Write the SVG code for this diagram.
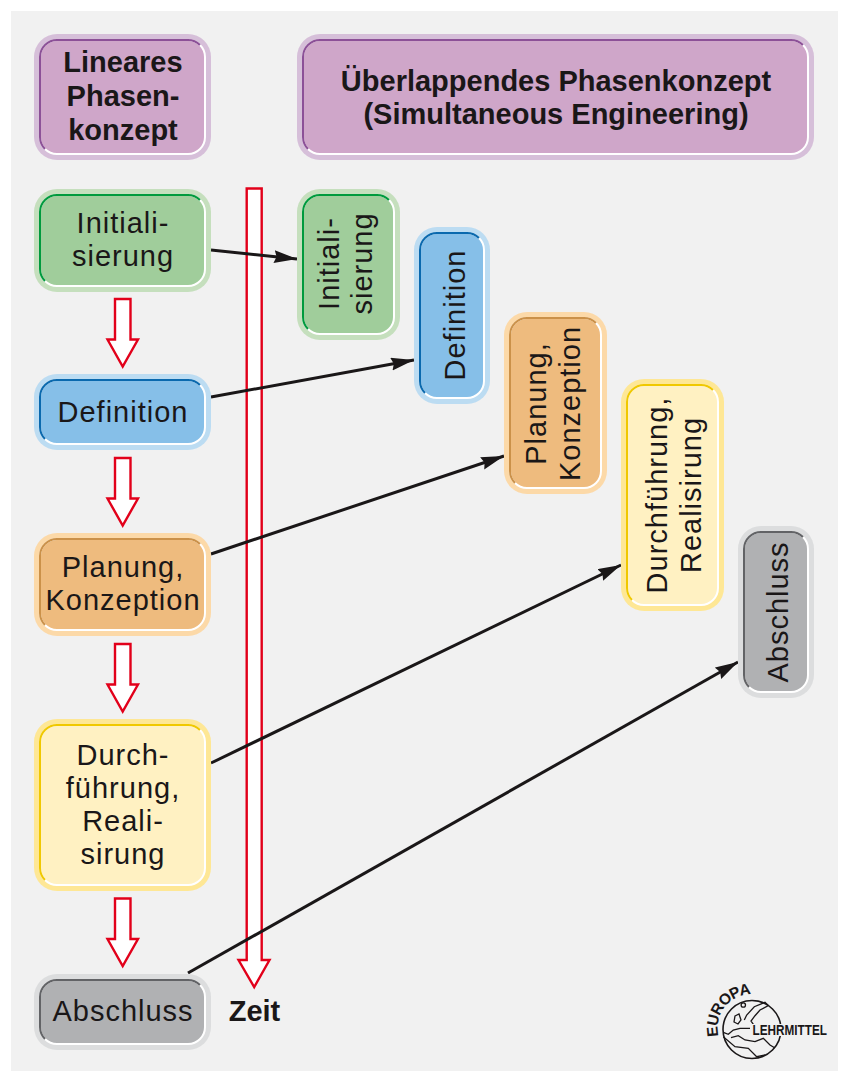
<svg xmlns="http://www.w3.org/2000/svg" width="848" height="1081" viewBox="0 0 848 1081">
<style>
text{font-family:"Liberation Sans",Arial,sans-serif;fill:#1a1718;text-anchor:middle}
.t{font-size:29px;letter-spacing:1px}
.b{font-size:29px;font-weight:700}
.d{fill:none;stroke-width:2}
.red{fill:#fff;stroke:#e2001a;stroke-width:2.4}
.c{fill:none;stroke:#1a1718;stroke-width:3;marker-end:url(#ah)}
.m{fill:none;stroke:#1a1718;stroke-width:1.300}
.lu{fill:#d6bfd9}.lg{fill:#c5dfbd}.lb{fill:#bcdcf2}.lo{fill:#fcd9a8}.ly{fill:#fee795}.lk{fill:#dcddde}
.fu{fill:#cfa6c9;stroke:#fff;stroke-width:2}.fg{fill:#a0cd9b;stroke:#fff;stroke-width:2}.fb{fill:#86bfe8;stroke:#fff;stroke-width:2}.fo{fill:#eebb7e;stroke:#fff;stroke-width:2}.fy{fill:#fff1c2;stroke:#fff;stroke-width:2}.fk{fill:#b0b1b3;stroke:#fff;stroke-width:2}
.du{stroke:#8c5097}.dg{stroke:#009a3d}.db{stroke:#0a69ae}.do{stroke:#cb9149}.dy{stroke:#f0c800}.dk{stroke:#626366}
</style>
<defs>
<marker id="ah" markerUnits="userSpaceOnUse" markerWidth="24" markerHeight="14" refX="23" refY="6.500" orient="auto"><path d="M0 0L23 6.500L0 13L2.500 6.500Z" fill="#1a1718"/></marker>
</defs>
<rect width="848" height="1081" fill="#fff"/>
<rect x="11" y="11" width="827" height="1060" fill="#f1f1f1"/>

<g id="arrows-red">
<path class="red" d="M115 299H130.500V339.500H138L122.700 366.500L107.500 339.500H115Z"/>
<path class="red" d="M115 458H130.500V498.500H138L122.700 525.500L107.500 498.500H115Z"/>
<path class="red" d="M115 644H130.500V684.500H138L122.700 711.500L107.500 684.500H115Z"/>
<path class="red" d="M115 898.500H130.500V939H138L122.700 966L107.500 939H115Z"/>
<path class="red" d="M246.700 188.500H261.700V960H269.500L254.200 987L238.500 960H246.700Z"/>
</g>

<g id="connectors">
<path class="c" d="M211 250L297 259"/>
<path class="c" d="M211 397L414 360"/>
<path class="c" d="M211 554L504 456"/>
<path class="c" d="M211 763L621 565"/>
<path class="c" d="M188 973L738 662"/>
</g>

<g id="n-linear-title">
<rect class="lu" x="34" y="34" width="177" height="126" rx="23"/>
<rect class="fu" x="40" y="40" width="165" height="114" rx="17"/>
<path class="d du" d="M45 149A17 17 0 0 1 40 137V57A17 17 0 0 1 57 40H188A17 17 0 0 1 200 45"/>
<text class="b"><tspan x="123" y="72">Lineares</tspan><tspan x="123" y="106">Phasen-</tspan><tspan x="123" y="140">konzept</tspan></text>
</g>
<g id="n-overlap-title">
<rect class="lu" x="297" y="34" width="517" height="126" rx="23"/>
<rect class="fu" x="303" y="40" width="505" height="114" rx="17"/>
<path class="d du" d="M308 149A17 17 0 0 1 303 137V57A17 17 0 0 1 320 40H791A17 17 0 0 1 803 45"/>
<text class="b"><tspan x="556" y="91">Überlappendes Phasenkonzept</tspan><tspan x="556" y="124">(Simultaneous Engineering)</tspan></text>
</g>

<g id="n-init">
<rect class="lg" x="34" y="189" width="177" height="103" rx="23"/>
<rect class="fg" x="40" y="195" width="165" height="91" rx="17"/>
<path class="d dg" d="M45 281A17 17 0 0 1 40 269V212A17 17 0 0 1 57 195H188A17 17 0 0 1 200 200"/>
<text class="t"><tspan x="123" y="233">Initiali-</tspan><tspan x="123" y="266">sierung</tspan></text>
</g>
<g id="n-def">
<rect class="lb" x="34" y="374" width="177" height="76" rx="23"/>
<rect class="fb" x="40" y="380" width="165" height="64" rx="17"/>
<path class="d db" d="M45 439A17 17 0 0 1 40 427V397A17 17 0 0 1 57 380H188A17 17 0 0 1 200 385"/>
<text class="t" x="123" y="422">Definition</text>
</g>
<g id="n-plan">
<rect class="lo" x="34" y="533" width="177" height="103" rx="23"/>
<rect class="fo" x="40" y="539" width="165" height="91" rx="17"/>
<path class="d do" d="M45 625A17 17 0 0 1 40 613V556A17 17 0 0 1 57 539H188A17 17 0 0 1 200 544"/>
<text class="t"><tspan x="123" y="577">Planung,</tspan><tspan x="123" y="610">Konzeption</tspan></text>
</g>
<g id="n-durch">
<rect class="ly" x="34" y="719" width="177" height="172" rx="23"/>
<rect class="fy" x="40" y="725" width="165" height="160" rx="17"/>
<path class="d dy" d="M45 880A17 17 0 0 1 40 868V742A17 17 0 0 1 57 725H188A17 17 0 0 1 200 730"/>
<text class="t"><tspan x="123" y="765">Durch-</tspan><tspan x="123" y="798">führung,</tspan><tspan x="123" y="831">Reali-</tspan><tspan x="123" y="864">sirung</tspan></text>
</g>
<g id="n-abschluss">
<rect class="lk" x="34" y="974" width="177" height="76" rx="23"/>
<rect class="fk" x="40" y="980" width="165" height="64" rx="17"/>
<path class="d dk" d="M45 1039A17 17 0 0 1 40 1027V997A17 17 0 0 1 57 980H188A17 17 0 0 1 200 985"/>
<text class="t" x="123" y="1021">Abschluss</text>
</g>

<g id="n-init2">
<rect class="lg" x="297" y="189" width="103" height="151" rx="23"/>
<rect class="fg" x="303" y="195" width="91" height="139" rx="17"/>
<path class="d dg" d="M308 329A17 17 0 0 1 303 317V212A17 17 0 0 1 320 195H377A17 17 0 0 1 389 200"/>
<text class="t" transform="translate(339 263.500) rotate(-90)">Initiali-</text>
<text class="t" transform="translate(372 263.500) rotate(-90)">sierung</text>
</g>
<g id="n-def2">
<rect class="lb" x="414" y="227" width="76" height="177" rx="23"/>
<rect class="fb" x="420" y="233" width="64" height="165" rx="17"/>
<path class="d db" d="M425 393A17 17 0 0 1 420 381V250A17 17 0 0 1 437 233H467A17 17 0 0 1 479 238"/>
<text class="t" transform="translate(464.500 315) rotate(-90)">Definition</text>
</g>
<g id="n-plan2">
<rect class="lo" x="504" y="312" width="103" height="182" rx="23"/>
<rect class="fo" x="510" y="318" width="91" height="170" rx="17"/>
<path class="d do" d="M515 483A17 17 0 0 1 510 471V335A17 17 0 0 1 527 318H584A17 17 0 0 1 596 323"/>
<text class="t" transform="translate(546 403.500) rotate(-90)">Planung,</text>
<text class="t" transform="translate(580 403.500) rotate(-90)">Konzeption</text>
</g>
<g id="n-durch2">
<rect class="ly" x="621" y="379" width="103" height="232" rx="23"/>
<rect class="fy" x="627" y="385" width="91" height="220" rx="17"/>
<path class="d dy" d="M632 600A17 17 0 0 1 627 588V402A17 17 0 0 1 644 385H701A17 17 0 0 1 713 390"/>
<text class="t" transform="translate(666.500 495) rotate(-90)">Durchführung,</text>
<text class="t" transform="translate(700.500 495) rotate(-90)">Realisirung</text>
</g>
<g id="n-abschluss2">
<rect class="lk" x="738" y="526" width="76" height="172" rx="23"/>
<rect class="fk" x="744" y="532" width="64" height="160" rx="17"/>
<path class="d dk" d="M749 687A17 17 0 0 1 744 675V549A17 17 0 0 1 761 532H791A17 17 0 0 1 803 537"/>
<text class="t" transform="translate(788 612) rotate(-90)">Abschluss</text>
</g>

<text id="zeit" class="b" x="254.500" y="1021">Zeit</text>

<g id="logo">
<circle cx="752" cy="1029.500" r="29" fill="none" stroke="#1a1718" stroke-width="1.600"/>
<path class="m" d="M744.300 1020L746.700 1015L754.300 1006.700L765 1002.300L768.300 1005.700L760 1010L755 1015.700L751 1021L754.300 1025.700"/>
<path class="m" d="M735 1016L739 1014L741 1020L738 1024L734 1022Z"/>
<circle class="m" cx="743.300" cy="1005" r="2.200"/>
<path class="m" d="M723.300 1032.300L728.300 1034.300L733.300 1030L740 1028.300L750 1028.300"/>
<path class="m" d="M723.300 1036.700L735 1046.700L748.300 1048.300L756.700 1056.700L765 1055"/>
<path class="m" d="M731 1037.700L738.300 1035.700L745 1040L755 1041.700L763.300 1038.300L770 1045L775 1048"/>
<path id="logoarc" d="M718.500 1036A34 34 0 0 1 772 1001" fill="none"/>
<text font-size="15.500" font-weight="700" letter-spacing="-.9" style="text-anchor:start"><textPath href="#logoarc">EUROPA</textPath></text>
<rect x="751.500" y="1024" width="76" height="12" fill="#f1f1f1"/>
<text x="752.500" y="1035" font-size="14" font-weight="700" style="text-anchor:start" textLength="74.500" lengthAdjust="spacingAndGlyphs">LEHRMITTEL</text>
</g>
</svg>
